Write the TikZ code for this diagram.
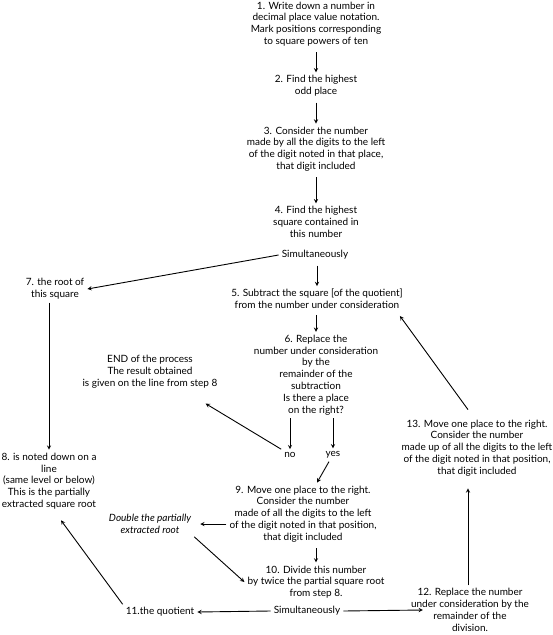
\documentclass[tikz,border=0pt]{standalone}
\usepackage{fontspec}
\setmainfont{Lato}
\usetikzlibrary{arrows}
\tikzstyle{stepnode}=[align=center,inner sep=3pt,font=\fontsize{10}{11.8}\selectfont]
\tikzstyle{remark}=[stepnode,font=\fontsize{10}{11.8}\selectfont\itshape]
\tikzstyle{flowedge} = [draw,line width=0.9pt,-stealth]

\begin{document}
\begin{tikzpicture}[x=1pt,y=-1pt]
    \useasboundingbox (0,0) rectangle (553,635);
    % Steps of the square root extraction
    \foreach \pos/\name/\label in {{(316,24)/s1/1. Write down a number in\\decimal place value notation.\\Mark positions corresponding\\to square powers of ten},
    {(316,86)/s2/2. Find the highest\\odd place},
    {(316,149)/s3/3. Consider the number\\made by all the digits to the left\\of the digit noted in that place,\\that digit included},
    {(316,222)/s4/4. Find the highest\\square contained in\\this number},
    {(315,255)/simA/Simultaneously},
    {(317,299)/s5/5. Subtract the square [of the quotient]\\from the number under consideration},
    {(316,375)/s6/6. Replace the\\number under consideration\\by the\\remainder of the\\subtraction\\Is there a place\\on the right?},
    {(290,455)/no/no}, {(333,455)/yes/yes},
    {(55,289)/s7/7. the root of\\this square},
    {(150,372)/fin/END of the process\\The result obtained\\is given on the line from step 8},
    {(49,481)/s8/8. is noted down on a\\line\\(same level or below)\\This is the partially\\extracted square root},
    {(303,514)/s9/9. Move one place to the right.\\Consider the number\\made of all the digits to the left\\of the digit noted in that position,\\that digit included},
    {(316,582)/s10/10. Divide this number\\by twice the partial square root\\from step 8.},
    {(307,611)/simB/Simultaneously},
    {(160,612)/s11/11.the quotient},
    {(470,610)/s12/12. Replace the number\\under consideration by the\\remainder of the\\division.},
    {(477,448)/s13/13. Move one place to the right.\\Consider the number\\made up of all the digits to the left\\of the digit noted in that position,\\that digit included}}
        \node[stepnode] (\name) at \pos {\label};
    \node[remark] (dbl) at (150,524) {Double the partially\\extracted root};

    % Straight down the middle
    \foreach \source/\dest in {s1/s2, s2/s3, s3/s4, simA/s5, s5/s6, s9/s10}
        \path[flowedge, shorten <=3pt] (\dest.north |- \source.south) -- (\dest.north);
    \foreach \dest in {no, yes}
        \path[flowedge] (s6.south -| \dest) -- (\dest.north);
    \path[flowedge] (s7.south -| s8.north) -- (s8.north);
    \path[flowedge, shorten >=9pt] ([xshift=-2pt]s12.north) -- ([xshift=-2pt]s12.north |- s13.south);

    % Side branches
    \path[flowedge] (simA.west) -- (s7.east);
    \path[flowedge] (no.north west) -- ([xshift=-15pt,yshift=-12pt]fin.south east);
    \path[flowedge] ([xshift=-4pt]yes.south) -- ([xshift=14pt]s9.north);
    \path[flowedge, shorten >=6pt] (s9.west |- dbl.east) -- (dbl.east);
    \path[flowedge] (dbl.south east) -- (s10.west);
    \path[flowedge] (simB.west) -- (s11.east);
    \path[flowedge] (simB.east) -- ([xshift=15pt]s12.west);
    \path[flowedge] (s11.north west) -- ([xshift=12pt,yshift=-8pt]s8.south);
    \path[flowedge] ([xshift=-9pt,yshift=7pt]s13.north) -- ([xshift=-6pt,yshift=-4pt]s5.south east);
\end{tikzpicture}
\end{document}
